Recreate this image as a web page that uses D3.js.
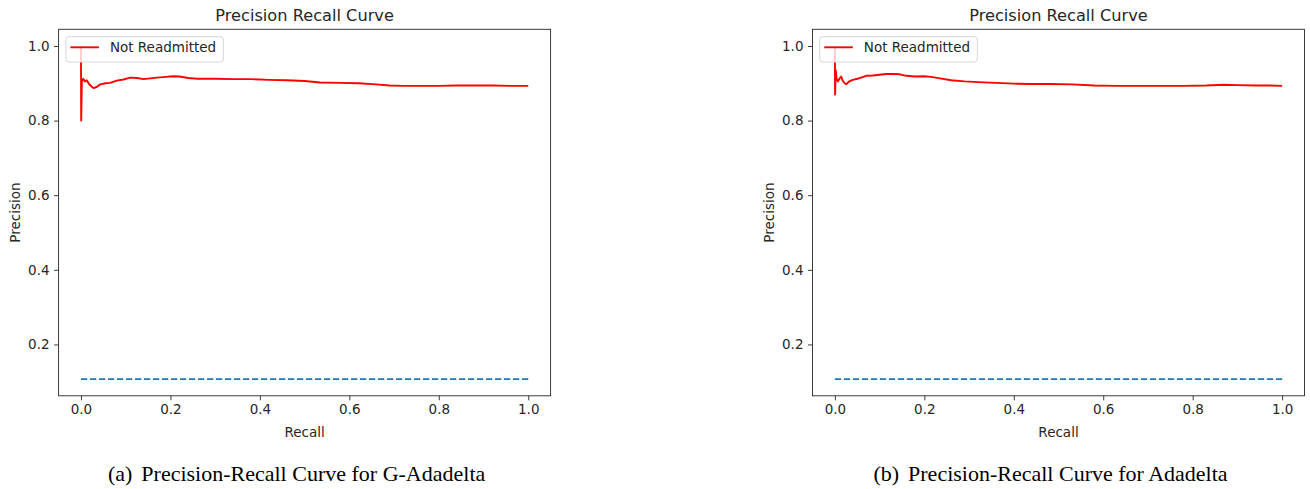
<!DOCTYPE html>
<html>
<head>
<meta charset="utf-8">
<script src="https://cdn.jsdelivr.net/npm/d3@7"></script>
<style>
    body { margin: 0; background: #fff; }
    svg { display: block; }
</style>
</head>
<body>
<svg id="chart"></svg>
<script>
// G-Adadelta precision/recall
var gRecall = [0, 0.0005, 0.002, 0.005, 0.009, 0.013, 0.018, 0.023, 0.028, 0.035, 0.043, 0.055, 0.065, 0.08, 0.095, 0.11, 0.125, 0.14, 0.155, 0.17, 0.19, 0.206, 0.22, 0.24, 0.26, 0.3, 0.34, 0.38, 0.42, 0.46, 0.5, 0.535, 0.58, 0.62, 0.66, 0.69, 0.72, 0.76, 0.8, 0.84, 0.88, 0.92, 0.96, 1.0];
var gPrecision = [1.0, 0.80, 0.905, 0.912, 0.905, 0.908, 0.898, 0.892, 0.887, 0.89, 0.897, 0.9, 0.901, 0.907, 0.91, 0.915, 0.914, 0.911, 0.913, 0.915, 0.917, 0.919, 0.918, 0.914, 0.912, 0.912, 0.911, 0.911, 0.909, 0.908, 0.906, 0.902, 0.901, 0.9, 0.897, 0.894, 0.893, 0.893, 0.893, 0.894, 0.894, 0.894, 0.893, 0.893];

// Adadelta precision/recall
var aRecall = [0, 0.0005, 0.002, 0.004, 0.007, 0.01, 0.014, 0.018, 0.022, 0.026, 0.032, 0.04, 0.05, 0.06, 0.07, 0.085, 0.1, 0.115, 0.13, 0.145, 0.16, 0.18, 0.2, 0.215, 0.235, 0.26, 0.29, 0.32, 0.36, 0.4, 0.44, 0.48, 0.53, 0.58, 0.63, 0.68, 0.72, 0.78, 0.83, 0.87, 0.9, 0.94, 0.97, 1.0];
var aPrecision = [1.0, 0.87, 0.935, 0.91, 0.905, 0.912, 0.918, 0.906, 0.9, 0.898, 0.905, 0.909, 0.912, 0.916, 0.92, 0.921, 0.923, 0.925, 0.925, 0.924, 0.92, 0.918, 0.919, 0.917, 0.913, 0.908, 0.905, 0.903, 0.901, 0.899, 0.898, 0.898, 0.897, 0.894, 0.893, 0.893, 0.893, 0.893, 0.894, 0.896, 0.895, 0.894, 0.894, 0.893];

// no-skill baseline (dashed)
var baselineRecall = [0, 1];
var baselinePrecision = [0.107, 0.107];

var xTicks = [0, 0.2, 0.4, 0.6, 0.8, 1.0];
var yTicks = [0.2, 0.4, 0.6, 0.8, 1.0];
var seriesName = "Not Readmitted";
var chartTitle = "Precision Recall Curve";
var captions = [["(a)", "Precision-Recall Curve for G-Adadelta"], ["(b)", "Precision-Recall Curve for Adadelta"]];

var totalWidth = 1310, totalHeight = 489;
var font = "'DejaVu Sans', sans-serif";
var ink = "#262626";
var fs = 13.5;

var svg = d3.select("#chart")
    .attr("width", totalWidth)
    .attr("height", totalHeight)
    .attr("viewBox", "0 0 " + totalWidth + " " + totalHeight);

function drawPanel(left, recall, precision, caption) {
    var width = 492, top = 29.3, bottom = 395.8;

    var x = d3.scaleLinear().domain([-0.05, 1.05]).range([left, left + width]);
    var y = d3.scaleLinear().domain([0.06235, 1.04465]).range([bottom, top]);

    var g = svg.append("g");

    // title
    g.append("text")
        .attr("x", left + width / 2)
        .attr("y", 21)
        .attr("text-anchor", "middle")
        .attr("font-family", font)
        .attr("font-size", fs * 1.2)
        .attr("fill", ink)
        .text(chartTitle);

    var xAxis = g.append("g")
        .attr("transform", "translate(0," + bottom + ")")
        .call(d3.axisBottom(x).tickValues(xTicks).tickFormat(d3.format(".1f")).tickSize(4.5).tickPadding(4.5).tickSizeOuter(0));
    var yAxis = g.append("g")
        .attr("transform", "translate(" + left + ",0)")
        .call(d3.axisLeft(y).tickValues(yTicks).tickFormat(d3.format(".1f")).tickSize(4.5).tickPadding(4.5).tickSizeOuter(0));

    [xAxis, yAxis].forEach(function (a) {
        a.select(".domain").remove();
        a.selectAll(".tick line").attr("stroke", ink).attr("stroke-width", 0.9);
        a.selectAll(".tick text").attr("fill", ink).attr("font-family", font).attr("font-size", fs);
    });

    // axis labels
    g.append("text")
        .attr("x", left + width / 2)
        .attr("y", 437)
        .attr("text-anchor", "middle")
        .attr("font-family", font)
        .attr("font-size", fs)
        .attr("fill", ink)
        .text("Recall");
    g.append("text")
        .attr("transform", "translate(" + (left - 39) + "," + ((top + bottom) / 2) + ") rotate(-90)")
        .attr("text-anchor", "middle")
        .attr("font-family", font)
        .attr("font-size", fs)
        .attr("fill", ink)
        .text("Precision");

    var line = d3.line()
        .x(function (d) { return x(d[0]); })
        .y(function (d) { return y(d[1]); });

    g.append("path")
        .datum(d3.zip(recall, precision))
        .attr("fill", "none")
        .attr("stroke", "#ff0000")
        .attr("stroke-width", 1.9)
        .attr("stroke-linejoin", "round")
        .attr("d", line);

    g.append("path")
        .datum(d3.zip(baselineRecall, baselinePrecision))
        .attr("fill", "none")
        .attr("stroke", "#1f77b4")
        .attr("stroke-width", 1.7)
        .attr("stroke-dasharray", "6.3,2.7")
        .attr("d", line);

    // legend, upper left
    var lg = g.append("g").attr("transform", "translate(" + (left + 7.3) + ",36.7)");
    lg.append("rect")
        .attr("width", 157.5)
        .attr("height", 25.3)
        .attr("rx", 3)
        .attr("fill", "#fff")
        .attr("fill-opacity", 0.8)
        .attr("stroke", "#d6d6d6")
        .attr("stroke-width", 1);
    lg.append("line")
        .attr("x1", 4.5).attr("x2", 33)
        .attr("y1", 10.6).attr("y2", 10.6)
        .attr("stroke", "#ff0000")
        .attr("stroke-width", 1.9);
    lg.append("text")
        .attr("x", 44)
        .attr("y", 10.6)
        .attr("dy", "0.35em")
        .attr("font-family", font)
        .attr("font-size", fs)
        .attr("fill", ink)
        .text(seriesName);

    // frame
    g.append("rect")
        .attr("x", left).attr("y", top)
        .attr("width", width).attr("height", bottom - top)
        .attr("fill", "none")
        .attr("stroke", ink)
        .attr("stroke-width", 0.9);

    // subfigure caption
    var cap = g.append("text")
        .attr("x", left + width / 2 - 8)
        .attr("y", 481)
        .attr("text-anchor", "middle")
        .attr("font-family", "'Liberation Serif', 'Times New Roman', serif")
        .attr("font-size", 22)
        .attr("fill", "#000");
    cap.append("tspan").text(caption[0]);
    cap.append("tspan").attr("dx", 9).text(caption[1]);
}

drawPanel(58.6, gRecall, gPrecision, captions[0]);
drawPanel(812.5, aRecall, aPrecision, captions[1]);
</script>
</body>
</html>
